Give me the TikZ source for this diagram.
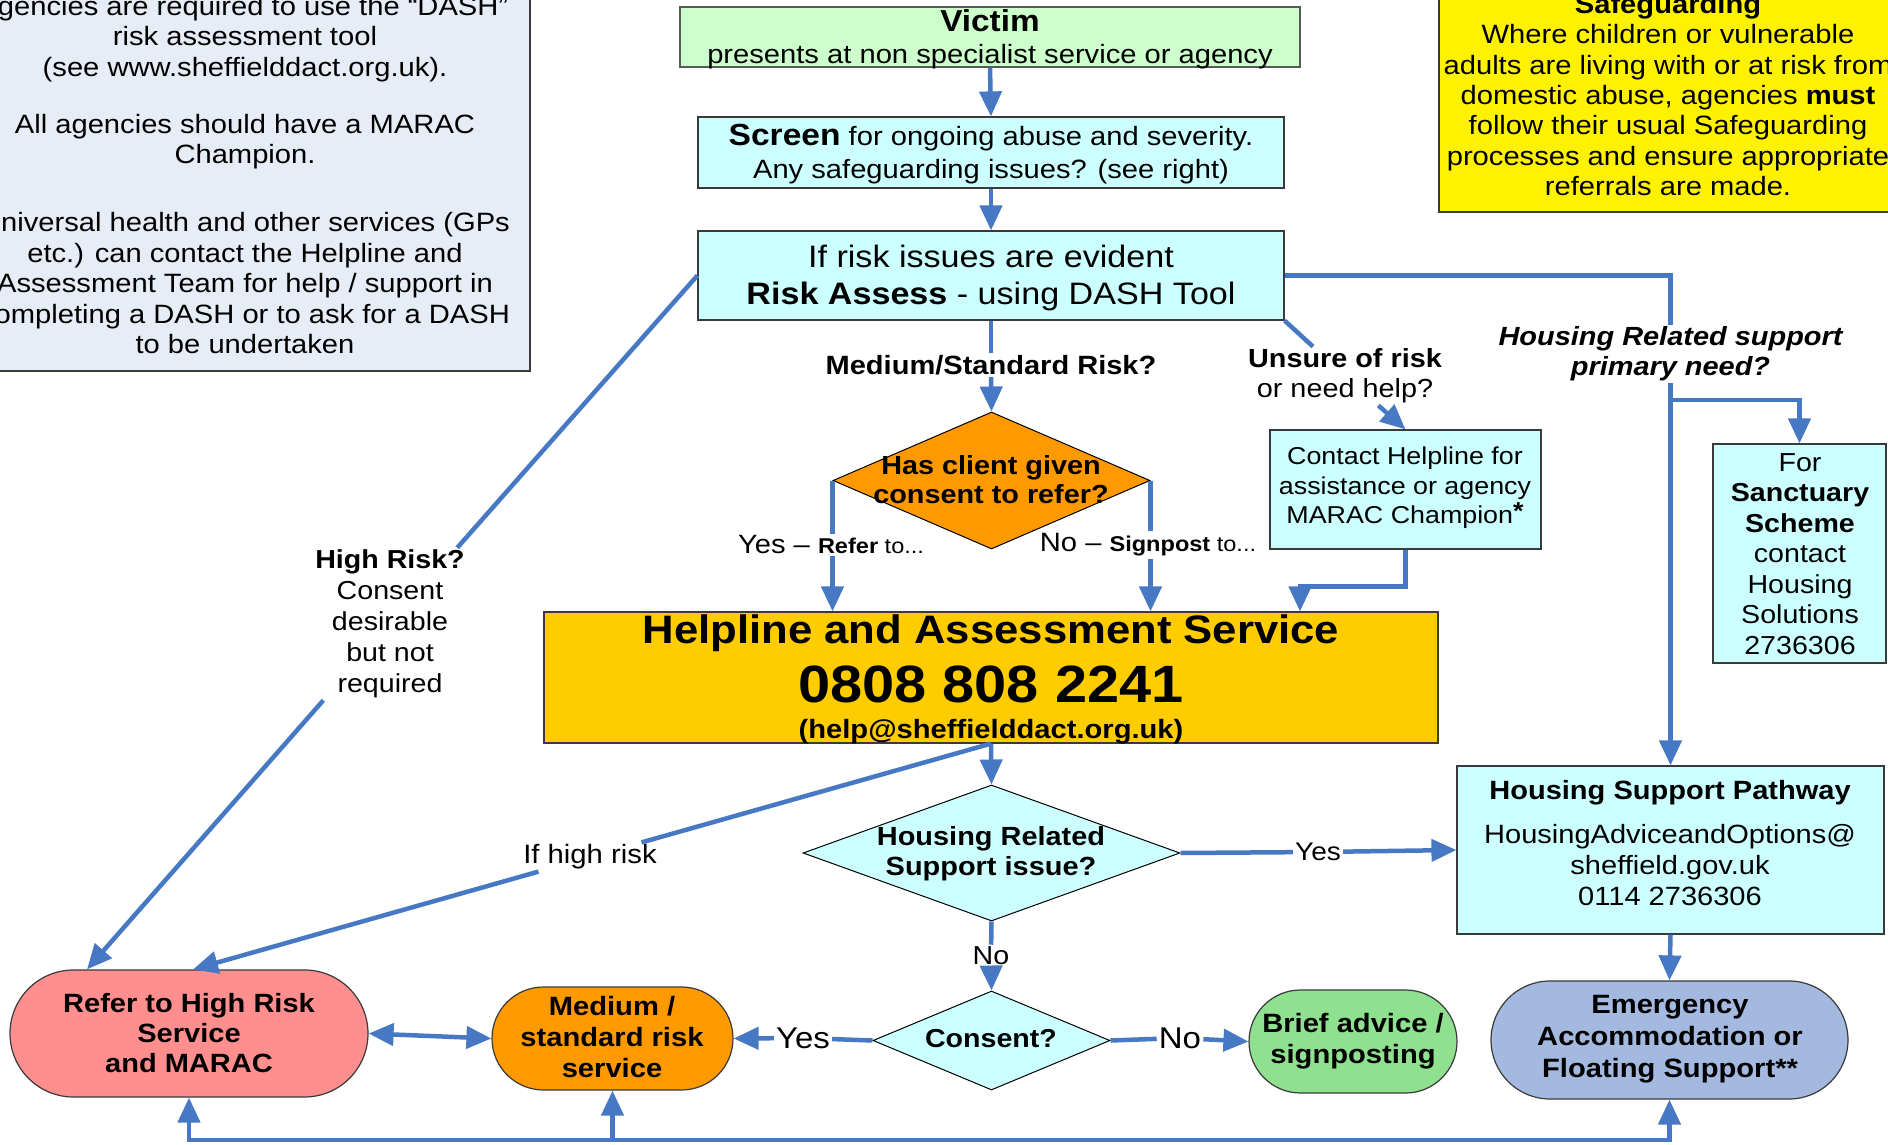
\documentclass[tikz,border=0pt]{standalone}
\usepackage{fontspec}
\setmainfont{Liberation Sans}[FakeStretch=1.1]
\usetikzlibrary{arrows.meta,shapes.geometric,shapes.misc}

\definecolor{flow}{HTML}{4678C3}
\definecolor{notebg}{HTML}{E7EDF7}
\definecolor{victimbg}{HTML}{CCFFCC}
\definecolor{cyanbg}{HTML}{CCFFFF}
\definecolor{helpbg}{HTML}{FFCC00}
\definecolor{orangebg}{HTML}{FF9900}
\definecolor{redbg}{HTML}{FF8F8F}
\definecolor{greenbg}{HTML}{8FE08F}
\definecolor{bluebg}{HTML}{A3B9E0}
\definecolor{edge}{HTML}{3A3A3A}

\newcommand\fsz[2]{\fontsize{#1pt}{#2pt}\selectfont}

\begin{document}
\begin{tikzpicture}[x=1pt,y=-1pt,
  >={Triangle[length=25pt,width=22pt]},
  box/.style={rectangle,draw=edge,line width=1.2pt,inner sep=0pt},
  pill/.style={rounded rectangle,draw=edge,line width=1.2pt,inner sep=0pt},
  rhomb/.style={diamond,draw=black,line width=1pt,inner sep=0pt},
  txt/.style={align=center,inner sep=2pt},
  conn/.style={draw=flow,line width=4.5pt},
  arr/.style={conn,->},
]
\useasboundingbox (0,0) rectangle (1888,1145);
\clip (0,0) rectangle (1888,1145);

% ---------- shapes ----------
\node[box,fill=notebg,minimum width=574pt,minimum height=431pt] (note) at (243,155.5) {};
\node[box,fill=yellow,minimum width=461pt,minimum height=252pt] (safe) at (1669.5,86) {};
\node[box,fill=victimbg,draw=gray!70!black,minimum width=620pt,minimum height=60pt] (victim) at (990,37) {};
\node[box,fill=cyanbg,minimum width=586pt,minimum height=71pt] (screen) at (991,152.5) {};
\node[box,fill=cyanbg,minimum width=586pt,minimum height=89pt] (risk) at (991,275.5) {};
\node[rhomb,fill=orangebg,minimum width=317pt,minimum height=137pt] (hc) at (991.5,480.5) {};
\node[box,fill=cyanbg,minimum width=271pt,minimum height=119pt] (contact) at (1405.5,489.5) {};
\node[box,fill=cyanbg,minimum width=173pt,minimum height=219pt] (sanct) at (1799.5,553.5) {};
\node[box,fill=helpbg,minimum width=894pt,minimum height=131pt] (help) at (991,677.5) {};
\node[rhomb,fill=cyanbg,minimum width=377pt,minimum height=136pt] (hrs) at (991.5,853) {};
\node[box,fill=cyanbg,minimum width=427pt,minimum height=168pt] (hsp) at (1670.5,850) {};
\node[rhomb,fill=cyanbg,minimum width=237pt,minimum height=99pt] (consent) at (991.5,1040.5) {};
\node[pill,fill=redbg,minimum width=358pt,minimum height=127pt] (refer) at (189,1033.5) {};
\node[pill,fill=orangebg,minimum width=241pt,minimum height=103pt] (medium) at (612.5,1038.5) {};
\node[pill,fill=greenbg,minimum width=208pt,minimum height=103pt] (brief) at (1353,1041.5) {};
\node[pill,fill=bluebg,minimum width=357pt,minimum height=118pt] (emerg) at (1669.5,1040) {};

% ---------- texts ----------
\node[txt,font=\fsz{26.5}{30.5}] (noteT) at (245,175) {agencies are required to use the “DASH”\\
  risk assessment tool\\ (see www.sheffielddact.org.uk).\\[26.5pt]
  All agencies should have a MARAC\\ Champion.\\[37.5pt]
  Universal health and other services (GPs\\ etc.) can contact the Helpline and\\
  Assessment Team for help / support in\\ completing a DASH or to ask for a DASH\\ to be undertaken};
\node[txt,font=\fsz{26.5}{30.3}] (safeT) at (1668,95) {{\bfseries Safeguarding}\\
  Where children or vulnerable\\ adults are living with or at risk from\\
  domestic abuse, agencies \textbf{must}\\ follow their usual Safeguarding\\
  processes and ensure appropriate\\ referrals are made.};
\node[txt,font=\fsz{26.5}{32}] (victimT) at (990,39) {{\fsz{30.3}{32}\bfseries Victim}\\
  presents at non specialist service or agency};
\node[txt,font=\fsz{26.5}{33}] (screenT) at (991,154) {{\fsz{30.5}{33}\bfseries Screen} for ongoing abuse and severity.\\
  Any safeguarding issues? (see right)};
\node[txt,font=\fsz{31}{37}] (riskT) at (991,278) {If risk issues are evident\\
  \textbf{Risk Assess} - using DASH Tool};
\node[txt,font=\fsz{26.4}{30}\bfseries] (medstdT) at (991,365) {Medium/Standard Risk?};
\node[txt,font=\fsz{26.2}{29}\bfseries] (hcT) at (991,480) {Has client given\\ consent to refer?};
\node[txt,font=\fsz{26.2}{30}] (unsureT) at (1345,376) {\textbf{Unsure of risk}\\ or need help?};
\node[txt,font=\fsz{24.4}{29.5}] (contactT) at (1405,488) {Contact Helpline for\\ assistance or agency\\
  MARAC Champion\raisebox{4pt}{\textbf{*}}};
\node[txt,font=\fsz{26.3}{30}\bfseries\itshape] (hrpnT) at (1670.5,354) {Housing Related support\\ primary need?};
\node[txt,font=\fsz{26}{30.5}] (sanctT) at (1800,554) {For\\ \textbf{Sanctuary}\\ \textbf{Scheme}\\ contact\\ Housing\\ Solutions\\ 2736306};
\node[txt] (yesrefT) at (831,545) {{\fsz{26.5}{30}Yes – }{\fsz{21.4}{30}\textbf{Refer} to...}};
\node[txt] (norefT) at (1148,545) {{\fsz{26.5}{30}No – }{\fsz{21.4}{30}\textbf{Signpost} to...}};
\node[txt,font=\fsz{26}{31}] (hriskT) at (390,624) {\textbf{High Risk?}\\ Consent\\ desirable\\ but not\\ required};
\node[txt,font=\fsz{39.7}{40}\bfseries] (helpA) at (991,633) {Helpline and Assessment Service};
\node[txt,font=\fsz{52.5}{53}\bfseries] (helpB) at (991,684) {0808 808 2241};
\node[txt,font=\fsz{26.5}{30}\bfseries] (helpC) at (991,732) {(help@sheffielddact.org.uk)};
\node[txt,font=\fsz{26.6}{30}] (ifhighT) at (590,857) {If high risk};
\node[txt,font=\fsz{26.3}{30}\bfseries] (hrsT) at (991,854) {Housing Related\\ Support issue?};
\node[txt,font=\fsz{25.5}{30}] (yes1) at (1318,852) {Yes};
\node[txt,font=\fsz{26}{30}] (no1) at (991,956) {No};
\node[txt,font=\fsz{26.4}{31}] (hspT) at (1670,843) {\textbf{Housing Support Pathway}\\[13pt]
  HousingAdviceandOptions@\\ sheffield.gov.uk\\ 0114 2736306};
\node[txt,font=\fsz{26}{30}\bfseries] (consentT) at (991,1039) {Consent?};
\node[txt,font=\fsz{30}{30}] (yes2) at (803,1038) {Yes};
\node[txt,font=\fsz{30}{30}] (no2) at (1180,1038) {No};
\node[txt,font=\fsz{26.4}{30}\bfseries] (referT) at (189,1033) {Refer to High Risk\\ Service\\ and MARAC};
\node[txt,font=\fsz{26.5}{31}\bfseries] (mediumT) at (612,1037) {Medium /\\ standard risk\\ service};
\node[txt,font=\fsz{26.5}{31}\bfseries] (briefT) at (1353,1041) {Brief advice /\\ signposting};
\node[txt,font=\fsz{26.5}{32}\bfseries] (emergT) at (1670,1039) {Emergency\\ Accommodation or\\ Floating Support**};

% ---------- connectors ----------
\draw[arr] (victim.south) -- (screen.north);
\draw[arr] (screen.south) -- (risk.north);
\draw[conn] (risk.south) -- (medstdT);
\draw[arr] (medstdT) -- (hc.north);

\draw[conn] (risk.west) -- (hriskT);
\draw[arr] (hriskT) -- ([xshift=-102pt]refer.north);

\draw[conn] (risk.east) -| (hrpnT);
\draw[arr] (hrpnT) -- (hsp.north);
\coordinate (hbranch) at (1670.5,400);
\draw[arr] (hbranch) -| (sanct.north);

\draw[conn] (risk.south east) -- (unsureT);
\draw[arr] (unsureT) -- (contact.north);

\draw[conn] (hc.west) -- (hc.west |- yesrefT.north);
\draw[arr] (hc.west |- yesrefT.south) -- (hc.west |- help.north);
\draw[conn] (hc.east) -- (hc.east |- norefT.north);
\draw[arr] (hc.east |- norefT.south) -- (hc.east |- help.north);

\draw[arr] (contact.south) -- ++(0,37) -| ([xshift=309pt]help.north);

\draw[arr] (help.south) -- (hrs.north);
\draw[conn] (help.south) -- (ifhighT);
\draw[arr] (ifhighT) -- ([xshift=4pt]refer.north);

\draw[conn] (hrs.east) -- (yes1);
\draw[arr] (yes1) -- (hsp.west);
\draw[conn] (hrs.south) -- (no1);
\draw[arr] (no1) -- (consent.north);

\draw[conn] (consent.west) -- (yes2);
\draw[arr] (yes2) -- (medium.east);
\draw[conn] (consent.east) -- (no2);
\draw[arr] (no2) -- (brief.west);

\draw[conn,<->] (refer.east) -- (medium.west);
\draw[arr] (hsp.south) -- (emerg.north);

\coordinate (baseline) at (0,1140);
\draw[conn,<->] (refer.south) -- (refer.south |- baseline) -- (emerg.south |- baseline) -- (emerg.south);
\draw[arr] (medium.south |- baseline) -- (medium.south);
\end{tikzpicture}
\end{document}
